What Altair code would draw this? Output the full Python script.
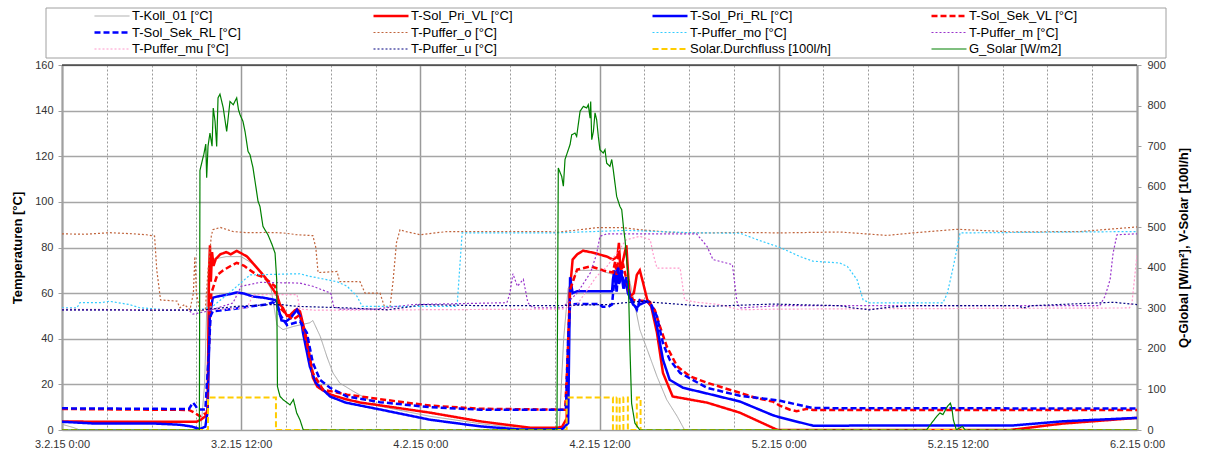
import altair as alt
import pandas as pd

# ---------------- data (time in hours since 3.2.15 0:00) ----------------
NAMES = ["T-Koll_01 [°C]", "T-Sol_Pri_VL [°C]", "T-Sol_Pri_RL [°C]", "T-Sol_Sek_VL [°C]",
         "T-Sol_Sek_RL [°C]", "T-Puffer_o [°C]", "T-Puffer_mo [°C]", "T-Puffer_m [°C]",
         "T-Puffer_mu [°C]", "T-Puffer_u [°C]", "Solar.Durchfluss [100l/h]", "G_Solar [W/m2]"]
COLORS = ["#a6a6a6", "#ff0000", "#0000ff", "#ff0000", "#0000ff", "#c0643c", "#33ccff",
          "#9933cc", "#ff99cc", "#000080", "#ffcc00", "#008000"]
DASHES = [[1, 0], [1, 0], [1, 0], [6, 3], [6, 3], [2, 2], [2, 2], [2, 2], [2, 2], [2, 2],
          [6, 3], [1, 0]]
WIDTHS = [1, 2.5, 2.5, 2.5, 2.5, 1.2, 1.2, 1.2, 1.2, 1.2, 2, 1.2]

koll = [(0, 2.5), (0.8, 1.0), (1.2, 0), (9.3, 0), (9.55, 20), (9.7, 55), (9.85, 72), (10.2, 75),
        (11.0, 76), (12.0, 76), (13.0, 72), (14.0, 62), (14.4, 46), (14.8, 44), (15.5, 45.4),
        (16.6, 47), (16.8, 48), (17.3, 41), (17.75, 32), (18.15, 25), (18.6, 20.6), (19.5, 17),
        (21.3, 10.4), (24.65, 6.0), (28.0, 2.8), (31.0, 0.5), (33.3, 0.3), (33.6, 40), (33.9, 62),
        (34.5, 70), (36.0, 70), (37.0, 68), (38.0, 66), (38.25, 58.6), (38.7, 44), (39.2, 35.2),
        (39.85, 23.5), (40.5, 13.3), (41.2, 6), (41.7, 0), (72, 0)]

pri_vl = [(0, 3.7), (5, 3.6), (9.0, 3.6), (9.3, 4.5), (9.6, 6), (9.75, 8), (9.85, 70), (9.91, 81),
          (9.97, 65), (10.05, 78), (10.15, 72), (10.3, 75), (10.6, 77), (11.0, 78), (11.3, 77),
          (11.7, 78.5), (12.0, 77.5), (12.4, 76), (12.8, 73), (13.2, 70), (13.6, 67), (14.0, 63),
          (14.4, 59), (14.6, 55), (14.8, 53.5), (15.07, 50), (15.3, 50.5), (15.6, 52.5),
          (15.74, 53), (15.94, 52), (16.2, 45), (16.4, 39.6), (16.6, 32), (16.8, 23), (17.1, 19),
          (17.4, 17.7), (18.0, 15.5), (19.0, 13.5), (20.0, 12), (21.3, 10.8), (24.65, 7.6),
          (28.0, 3.8), (31.35, 1.0), (33.2, 1.0), (33.5, 1.5), (33.8, 5), (34.0, 60), (34.2, 74.7),
          (34.5, 77), (34.9, 78.6), (35.6, 77.7), (36.5, 76), (36.9, 74.7), (37.2, 76), (37.3, 82),
          (37.4, 70), (37.6, 75), (37.8, 81), (37.95, 65), (38.04, 58.5), (38.3, 60), (38.5, 68),
          (38.7, 70), (38.9, 65), (39.2, 57), (39.4, 56), (39.85, 42.6), (40.25, 25), (40.9, 14.7),
          (43.2, 12), (45.4, 7.6), (47.9, 0.1), (48.0, 0), (63.5, 0), (67.0, 2.8), (72, 5.3)]

pri_rl = [(0, 3.6), (2, 2.9), (6, 2.9), (7.9, 2.3), (8.7, 1.5), (9.24, 0.4), (9.6, 1.5), (9.75, 8),
          (9.9, 50), (10.1, 58), (10.4, 58.5), (10.8, 59), (11.2, 59.5), (11.7, 60.3), (12.2, 59.8),
          (12.8, 58.5), (13.5, 58), (14.27, 57), (14.4, 56), (14.7, 48), (15.0, 47.6), (15.3, 49),
          (15.74, 52.7), (16.0, 49), (16.14, 42.6), (16.6, 27.8), (17.0, 20.7), (17.95, 14.7),
          (19.0, 12), (21.3, 9.0), (24.65, 4.5), (28.0, 1.6), (30.7, 0.2), (33.5, 0.3), (33.9, 3),
          (34.03, 67), (34.2, 60), (34.5, 60.8), (36.84, 60.8), (36.9, 66), (37.0, 70), (37.1, 62),
          (37.2, 72), (37.3, 64), (37.45, 70), (37.6, 62), (37.75, 66), (37.9, 60), (38.04, 58),
          (38.25, 55), (38.5, 53.6), (38.7, 55), (39.2, 56.4), (39.5, 54), (39.85, 45.4),
          (40.25, 30.8), (40.7, 22), (41.6, 18.5), (43.2, 16), (45.4, 12.5), (47.6, 6.5),
          (48.1, 5.5), (50.3, 1.9), (63.7, 2.0), (67.0, 3.8), (72, 5.3)]

sek_vl = [(0, 9.2), (8.5, 8.8), (8.9, 7.5), (9.24, 6), (9.5, 7), (9.7, 7.5), (9.85, 40), (10.0, 60),
          (10.4, 68), (10.8, 70), (11.45, 72.5), (11.7, 73.3), (12.2, 72), (12.4, 71), (13.05, 68),
          (13.5, 67), (14.27, 63), (14.6, 53.6), (15.07, 50.5), (15.47, 48.4), (15.94, 50.5),
          (16.4, 38), (16.8, 25), (17.48, 17.7), (19.1, 15.5), (21.3, 13.5), (24.65, 10.7),
          (28.0, 9.3), (33.7, 8.9), (33.85, 30), (34.03, 61.5), (34.5, 70.3), (35.4, 71.7),
          (36.5, 69.5), (36.9, 69), (37.05, 74), (37.15, 68), (37.3, 78), (37.45, 70), (37.6, 72),
          (37.8, 66), (37.9, 62), (38.0, 60), (38.25, 57), (39.2, 56.4), (39.7, 52.7),
          (40.05, 45.4), (40.5, 36.7), (41.2, 27.9), (42.06, 23.5), (43.2, 20.7), (45.4, 16.3),
          (46.5, 14), (47.6, 12.5), (48.1, 10.6), (48.76, 8.9), (49.2, 8.2), (49.9, 9.3),
          (50.3, 8.8), (72, 8.8)]

sek_rl = [(0, 9.5), (8.5, 9.2), (8.77, 12), (8.9, 11), (9.1, 9), (9.6, 9), (9.8, 30), (9.95, 50),
          (10.1, 52), (11.45, 53), (12.6, 54.2), (13.7, 55), (14.1, 56), (14.4, 55), (14.6, 50.5),
          (15.07, 46), (15.94, 47.6), (16.4, 42.6), (16.8, 29.5), (17.28, 22), (17.95, 18.5),
          (19.1, 14.7), (21.3, 12.2), (24.65, 10), (28.0, 8.9), (33.75, 8.9), (33.9, 40),
          (34.03, 55), (34.5, 55.2), (36.0, 55.2), (36.2, 54), (36.6, 54), (36.84, 55),
          (36.95, 63), (37.05, 68), (37.15, 60), (37.25, 71.7), (37.35, 64), (37.5, 70),
          (37.65, 62), (37.8, 67), (38.04, 58.6), (38.5, 52.7), (38.7, 57), (39.4, 55.8),
          (39.85, 49.8), (40.25, 38), (40.7, 30.8), (41.4, 25), (43.2, 18.5), (45.4, 15),
          (47.6, 13.3), (48.1, 12.8), (50.3, 9.6), (72, 9.4)]

puffer_o = [(0, 86), (1.5, 85.8), (3.2, 86.5), (4.75, 86), (5.65, 85.6), (6.2, 85), (6.35, 70),
            (6.6, 57), (7.7, 56.5), (7.9, 53.6), (8.2, 55), (8.57, 52.7), (8.8, 60), (8.9, 76),
            (9.0, 60), (9.24, 52), (9.6, 53), (9.78, 70), (10.0, 85), (10.1, 87.8), (10.6, 88.8),
            (11.45, 87), (12.4, 86.5), (13.7, 86.6), (14.8, 86.4), (15.74, 85.6), (16.8, 85.2),
            (17.0, 80), (17.15, 69), (18.42, 69.5), (18.6, 65), (19.96, 65), (20.3, 60),
            (21.3, 60), (21.6, 54), (21.97, 54), (22.17, 65), (22.4, 82), (22.64, 87.8), (23.0, 87),
            (24.0, 85.6), (25.8, 87), (28.0, 87), (30.2, 87), (32.5, 87), (33.15, 86.6),
            (35.8, 88.7), (37.6, 88.7), (38.7, 87.8), (40.9, 86.6), (43.2, 86.4), (45.4, 86.6),
            (48.1, 86.4), (52.1, 86.8), (55.26, 85.3), (57.0, 86.4), (59.95, 88), (63.7, 86.8),
            (68.2, 87), (72, 89)]

puffer_mo = [(0, 53.5), (1.0, 53.5), (1.2, 55.8), (2.55, 55.8), (3.2, 56.4), (4.5, 55), (5.2, 53.6),
             (7.0, 52.7), (9.24, 52.7), (10.1, 54.2), (11.45, 61.5), (12.6, 68), (14.0, 68.2),
             (15.94, 68.5), (16.5, 67.5), (18.42, 65), (19.1, 63), (19.76, 58.6), (20.1, 54.2),
             (26.46, 54.2), (26.8, 86.4), (33.0, 86.4), (37.8, 87.5), (42.5, 86.4), (45.4, 86.3),
             (46.75, 83), (48.1, 80), (49.4, 76.1), (50.3, 74), (52.1, 73.2), (52.6, 71.7),
             (53.25, 65.9), (53.65, 57.1), (54.1, 55.7), (59.0, 55.7), (59.3, 60), (59.7, 71.7),
             (60.15, 86.4), (72, 87)]

puffer_m = [(0, 52.7), (8.5, 52.5), (8.77, 50.8), (9.7, 52), (11.45, 55.7), (12.0, 63),
            (13.26, 64.7), (15.94, 64.4), (16.8, 63), (18.0, 60), (18.2, 54.2), (18.6, 53),
            (21.0, 53), (23.5, 55), (29.8, 55.8), (30.0, 60), (30.2, 68.5), (30.5, 63), (30.9, 66),
            (31.2, 55.8), (31.55, 53.5), (33.5, 53.5), (34.5, 60), (35.4, 69), (35.8, 77),
            (36.03, 84.9), (36.5, 86), (42.5, 86), (43.2, 80.5), (43.6, 74.7), (44.9, 72.5),
            (45.0, 67.3), (45.2, 56.4), (45.4, 53.5), (48.0, 54.5), (69.5, 54.5), (69.86, 58.6),
            (70.2, 66), (70.4, 77.6), (70.66, 85.6), (72, 86)]

puffer_mu = [(0, 53), (9.24, 52.5), (11.0, 53), (12.4, 53.6), (12.8, 59.3), (15.74, 59.3),
             (15.94, 53), (17.0, 52.5), (33.5, 53), (34.5, 55), (35.8, 67.3), (36.5, 71.7),
             (37.2, 78), (37.8, 83.4), (38.7, 84.9), (39.4, 83.4), (39.6, 77), (39.85, 71),
             (41.4, 71), (41.7, 57), (42.5, 56), (44.0, 55), (45.4, 52.7), (48.0, 53), (71.5, 53.5),
             (71.67, 56), (72, 77)]

puffer_u = [(0, 52.7), (9.24, 52.5), (11.7, 54.2), (14.1, 55), (14.6, 55), (15.74, 54.2),
            (19.1, 53.5), (21.8, 52.7), (23.5, 54.2), (24.0, 55), (28.0, 54.5), (33.0, 54.5),
            (36.5, 55), (38.7, 56.4), (43.2, 54.2), (47.6, 55.2), (52.1, 54.5), (53.0, 53.5),
            (54.1, 52.7), (55.46, 53.9), (57.0, 54.5), (64.0, 54.5), (64.4, 53.5), (65.0, 54.5),
            (70.4, 56), (72, 55)]

durchfluss = [(0, 0), (9.78, 0), (9.78, 80), (14.33, 80), (14.33, 0), (33.8, 0), (33.8, 80),
              (36.9, 80), (36.9, 0), (37.15, 0), (37.15, 80), (37.35, 80), (37.35, 0), (37.6, 0),
              (37.6, 80), (37.9, 80), (37.9, 0), (38.5, 0), (38.5, 80), (38.75, 80), (38.75, 0),
              (72, 0)]

g_solar = [(0, 0), (9.2, 0), (9.24, 640), (9.38, 662), (9.5, 680), (9.63, 705), (9.69, 622),
           (9.78, 700), (9.91, 732), (10.05, 700), (10.13, 794), (10.25, 761), (10.36, 699),
           (10.45, 819), (10.58, 828), (10.7, 810), (10.8, 794), (11.03, 736), (11.25, 810),
           (11.47, 802), (11.7, 819), (11.82, 790), (11.92, 778), (12.12, 761), (12.26, 736),
           (12.46, 687), (12.59, 679), (12.79, 647), (12.93, 613), (13.13, 564), (13.26, 551),
           (13.46, 502), (13.8, 481), (14.07, 457), (14.27, 436), (14.38, 371), (14.43, 107),
           (14.6, 83), (14.8, 75), (15.27, 62), (15.5, 75), (15.72, 42), (15.94, 25), (16.16, 0),
           (33.15, 0), (33.24, 646), (33.47, 625), (33.58, 601), (33.69, 667), (33.8, 679),
           (34.03, 704), (34.14, 728), (34.36, 732), (34.47, 724), (34.7, 786), (34.92, 798),
           (35.14, 794), (35.25, 802), (35.37, 769), (35.41, 810), (35.48, 716), (35.59, 736),
           (35.7, 782), (35.81, 765), (35.92, 724), (36.03, 691), (36.25, 683), (36.37, 691),
           (36.48, 658), (36.7, 650), (36.82, 667), (36.92, 642), (37.15, 576), (37.37, 551),
           (37.49, 543), (37.6, 502), (37.71, 469), (37.82, 420), (37.93, 371), (38.04, 200),
           (38.15, 66), (38.37, 17), (38.7, 0), (57.9, 0), (58.3, 20), (58.6, 34), (58.8, 42),
           (59.0, 38), (59.3, 58), (59.5, 66), (59.6, 54), (59.7, 25), (59.9, 0), (60.3, 9),
           (60.5, 0), (72, 0)]

TEMP_SERIES = [koll, pri_vl, pri_rl, sek_vl, sek_rl, puffer_o, puffer_mo, puffer_m, puffer_mu, puffer_u]
SOLAR_SERIES = [durchfluss, g_solar]


def frame(series_list, names):
    rows = []
    for name, pts in zip(names, series_list):
        for i, (t, v) in enumerate(pts):
            rows.append({"t": t, "v": v, "series": name, "i": i})
    return pd.DataFrame(rows)


temps_df = frame(TEMP_SERIES, NAMES[:10])
solar_df = frame(SOLAR_SERIES, NAMES[10:])

FONT = "Liberation Sans"
GRID = "#a0a0a0"

x_enc = alt.X(
    "t:Q",
    scale=alt.Scale(domain=[0, 72], nice=False, zero=False),
    axis=alt.Axis(
        values=list(range(0, 73, 3)),
        labelExpr="datum.value % 12 === 0 ? (3 + floor(datum.value / 24)) + '.2.15 ' + (datum.value % 24) + ':00' : ''",
        title=None, ticks=False, labelPadding=8, labelFontSize=11, labelColor="#333333",
        labelFont=FONT, labelFlush=False, labelOverlap=False,
        domainColor=GRID, domainWidth=1,
        grid=True,
        gridDash={"condition": {"test": "datum.value % 12 === 0", "value": [1, 0]}, "value": [2, 2]},
        gridColor={"condition": {"test": "datum.value % 12 === 0", "value": "#9a9a9a"}, "value": "#9a9a9a"},
        gridWidth={"condition": {"test": "datum.value % 12 === 0", "value": 1.5}, "value": 1},
    ),
)

color_enc = alt.Color(
    "series:N",
    scale=alt.Scale(domain=NAMES, range=COLORS),
    legend=alt.Legend(
        orient="none", legendX=31, legendY=-56, direction="horizontal", columns=4,
        gridAlign="all", columnPadding=99, rowPadding=2.5, clipHeight=14,
        symbolType="stroke", symbolSize=1225, labelOffset=1, labelFontSize=13,
        labelFont=FONT, labelColor="#000000", title=None, padding=0, labelLimit=300,
    ),
)
dash_enc = alt.StrokeDash("series:N", scale=alt.Scale(domain=NAMES, range=DASHES))
width_enc = alt.StrokeWidth("series:N", scale=alt.Scale(type="ordinal", domain=NAMES, range=WIDTHS))

temps = alt.Chart(temps_df).mark_line(clip=True).encode(
    x=x_enc,
    y=alt.Y("v:Q", scale=alt.Scale(domain=[0, 160], nice=False),
            axis=alt.Axis(orient="left", values=list(range(0, 161, 20)), title="Temperaturen [°C]",
                          titleFont=FONT, titleFontSize=13, titleFontWeight="bold", titleColor="#000",
                          titlePadding=10, labelFont=FONT, labelFontSize=11, labelColor="#333333",
                          labelPadding=5, tickSize=4, tickColor=GRID, domainColor=GRID,
                          domainWidth=2, grid=True, gridColor="#a6a6a6", gridWidth=1.5)),
    color=color_enc, strokeDash=dash_enc, strokeWidth=width_enc,
    order=alt.Order("i:Q"),
)

solar = alt.Chart(solar_df).mark_line(clip=True).encode(
    x=x_enc,
    y=alt.Y("v:Q", scale=alt.Scale(domain=[0, 900], nice=False),
            axis=alt.Axis(orient="right", values=list(range(0, 901, 100)),
                          title="Q-Global [W/m²], V-Solar [100l/h]", titleAngle=270,
                          titleFont=FONT, titleFontSize=13, titleFontWeight="bold", titleColor="#000",
                          titlePadding=25, labelFont=FONT, labelFontSize=11, labelColor="#333333",
                          labelPadding=6, tickSize=4, tickColor=GRID, domainColor=GRID,
                          domainWidth=2, grid=False)),
    color=color_enc, strokeDash=dash_enc, strokeWidth=width_enc,
    order=alt.Order("i:Q"),
)

deco_data = alt.Data(values=[{"k": 1}])
legend_box = alt.Chart(deco_data).mark_rect(fillOpacity=0, stroke="#a0a0a0", strokeWidth=1).encode(
    x=alt.value(-16), x2=alt.value(1104), y=alt.value(-57), y2=alt.value(-7))
top_border = alt.Chart(deco_data).mark_rule(color="#000000", strokeWidth=1).encode(
    x=alt.value(0), x2=alt.value("width"), y=alt.value(0))

chart = alt.layer(temps, solar, legend_box, top_border).resolve_scale(y="independent").properties(
    width=1075, height=365,
    autosize=alt.AutoSizeParams(type="none"),
    padding={"left": 62, "top": 65, "right": 68, "bottom": 20},
    background="white",
).configure_view(stroke=None)

chart.save("out.html", embed_options={"renderer": "svg", "actions": False})
